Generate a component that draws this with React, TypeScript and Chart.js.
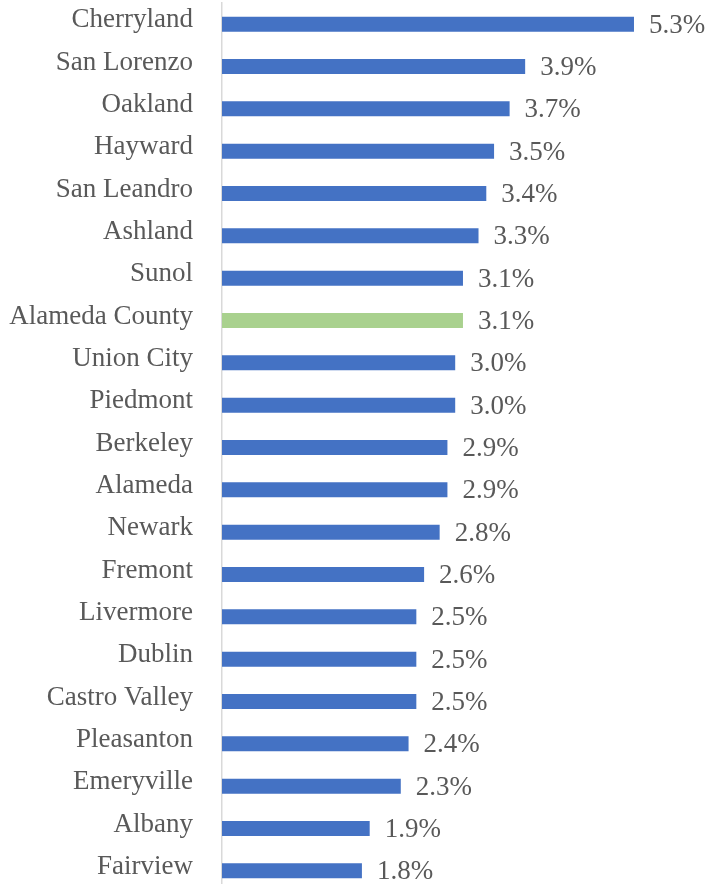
import React, { useEffect, useRef } from "react";
import { Chart, registerables } from "chart.js";

Chart.register(...registerables);

const categories = [
  "Cherryland", "San Lorenzo", "Oakland", "Hayward", "San Leandro", "Ashland", "Sunol",
  "Alameda County", "Union City", "Piedmont", "Berkeley", "Alameda", "Newark", "Fremont",
  "Livermore", "Dublin", "Castro Valley", "Pleasanton", "Emeryville", "Albany", "Fairview",
];
const values = [5.3, 3.9, 3.7, 3.5, 3.4, 3.3, 3.1, 3.1, 3.0, 3.0, 2.9, 2.9, 2.8, 2.6, 2.5, 2.5, 2.5, 2.4, 2.3, 1.9, 1.8];
const highlight = "Alameda County";

const BLUE = "#4472C4";
const GREEN = "#A9D18E";
const TEXT = "#595959";
const FONT = "'Liberation Serif', 'Times New Roman', serif";
const FONT_SIZE = 27;

const valueLabels = {
  id: "valueLabels",
  afterDatasetsDraw(chart: any) {
    const ctx = chart.ctx;
    const meta = chart.getDatasetMeta(0);
    ctx.save();
    ctx.font = `${FONT_SIZE}px ${FONT}`;
    ctx.fillStyle = TEXT;
    ctx.textAlign = "left";
    ctx.textBaseline = "alphabetic";
    meta.data.forEach((bar: any, i: number) => {
      const v = chart.data.datasets[0].data[i] as number;
      ctx.fillText(v.toFixed(1) + "%", bar.x + 15, bar.y + 8.5);
    });
    ctx.restore();
  },
};

export default function App() {
  const ref = useRef<HTMLCanvasElement>(null);
  useEffect(() => {
    if (!ref.current) return;
    const chart = new Chart(ref.current, {
      type: "bar",
      data: {
        labels: categories,
        datasets: [
          {
            data: values,
            backgroundColor: categories.map((c) => (c === highlight ? GREEN : BLUE)),
            barPercentage: 0.355,
            categoryPercentage: 1,
          },
        ],
      },
      options: {
        indexAxis: "y",
        responsive: false,
        animation: false,
        layout: { padding: { top: 3, bottom: 3, left: 0, right: 20.6 } },
        plugins: { legend: { display: false }, tooltip: { enabled: false } },
        scales: {
          x: { display: false, min: 0, max: 6 },
          y: {
            grid: { display: false, drawTicks: false },
            border: { display: true, color: "#D9D9D9", width: 1.5 },
            ticks: {
              autoSkip: false,
              padding: 29,
              labelOffset: -4,
              color: TEXT,
              font: { family: FONT, size: FONT_SIZE },
            },
            afterFit(scale: any) {
              scale.width = 222;
              scale.paddingTop = 0;
              scale.paddingBottom = 0;
            },
          },
        },
      },
      plugins: [valueLabels],
    });
    return () => chart.destroy();
  }, []);
  return (
    <div style={{ position: "absolute", left: 0, top: 0, width: 709, height: 895 }}>
      <canvas ref={ref} width={709} height={895} style={{ display: "block" }} />
    </div>
  );
}
